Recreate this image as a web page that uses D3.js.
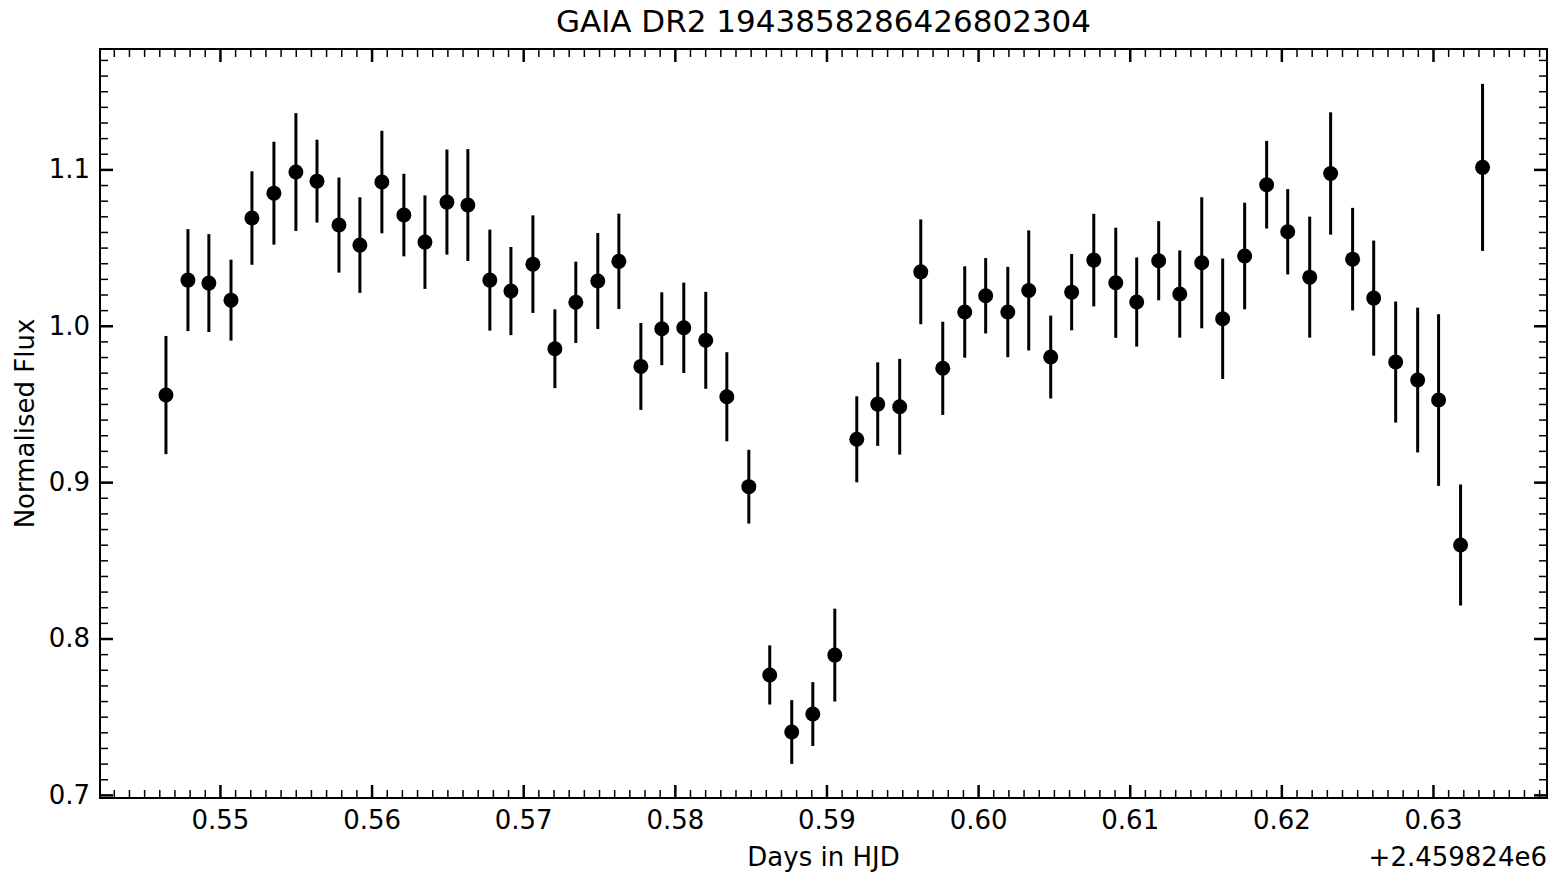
<!DOCTYPE html>
<html>
<head>
<meta charset="utf-8">
<script src="https://cdn.jsdelivr.net/npm/d3@7"></script>
<style>
  body { margin: 0; background: #fff; }
  text { font-family: "DejaVu Sans", sans-serif; fill: #000; }
</style>
</head>
<body>
<div id="plot"></div>
<script>
const WIDTH = 1552
const HEIGHT = 874

const MARGIN = {
    top: 49,
    bot: 76,
    left: 100,
    right: 5
}

// days in HJD, offset from 2459824
const hjd = [
    0.54644, 0.54789, 0.54927, 0.55073, 0.55211, 0.55356, 0.55501, 0.55640, 0.55785, 0.55923,
    0.56068, 0.56213, 0.56352, 0.56497, 0.56635, 0.56780, 0.56919, 0.57064, 0.57209, 0.57347,
    0.57492, 0.57631, 0.57776, 0.57914, 0.58059, 0.58204, 0.58343, 0.58488, 0.58626, 0.58771,
    0.58910, 0.59055, 0.59200, 0.59338, 0.59483, 0.59622, 0.59767, 0.59912, 0.60050, 0.60196,
    0.60334, 0.60479, 0.60617, 0.60763, 0.60908, 0.61046, 0.61191, 0.61330, 0.61475, 0.61613,
    0.61758, 0.61903, 0.62042, 0.62187, 0.62325, 0.62470, 0.62609, 0.62754, 0.62899, 0.63037,
    0.63182, 0.63327
]

const flux = [
    0.9557, 1.0292, 1.0273, 1.0164, 1.0689, 1.0848, 1.0983, 1.0925, 1.0644, 1.0516,
    1.0919, 1.0708, 1.0535, 1.0791, 1.0772, 1.0292, 1.0222, 1.0394, 0.9853, 1.0150,
    1.0286, 1.0412, 0.9740, 0.9981, 0.9987, 0.9907, 0.9546, 0.8971, 0.7767, 0.7402,
    0.7517, 0.7894, 0.9274, 0.9499, 0.9482, 1.0345, 0.9728, 1.0088, 1.0192, 1.0088,
    1.0226, 0.9800, 1.0215, 1.0420, 1.0275, 1.0152, 1.0416, 1.0203, 1.0403, 1.0045,
    1.0446, 1.0902, 1.0601, 1.0311, 1.0974, 1.0426, 1.0177, 0.9768, 0.9653, 0.9525,
    0.8598, 1.1013
]

const fluxErr = [
    0.0378, 0.0326, 0.0313, 0.0259, 0.0299, 0.0329, 0.0377, 0.0265, 0.0304, 0.0306,
    0.0328, 0.0264, 0.0299, 0.0336, 0.0358, 0.0323, 0.0282, 0.0312, 0.0252, 0.0260,
    0.0307, 0.0305, 0.0278, 0.0233, 0.0289, 0.0310, 0.0285, 0.0236, 0.0189, 0.0204,
    0.0204, 0.0297, 0.0275, 0.0267, 0.0306, 0.0335, 0.0298, 0.0292, 0.0241, 0.0289,
    0.0384, 0.0265, 0.0244, 0.0296, 0.0352, 0.0285, 0.0253, 0.0279, 0.0419, 0.0385,
    0.0341, 0.0280, 0.0273, 0.0387, 0.0391, 0.0328, 0.0368, 0.0387, 0.0463, 0.0549,
    0.0387, 0.0534
]

const xMajor = [0.55, 0.56, 0.57, 0.58, 0.59, 0.60, 0.61, 0.62, 0.63]
const yMajor = [0.7, 0.8, 0.9, 1.0, 1.1]

const SVG = d3.select("#plot")
    .append("svg")
    .attr("width", WIDTH)
    .attr("height", HEIGHT)

const xScale = d3.scaleLinear()
    .domain([0.54209, 0.63752])
    .range([MARGIN.left, WIDTH - MARGIN.right])

const yScale = d3.scaleLinear()
    .domain([0.698, 1.177])
    .range([HEIGHT - MARGIN.bot, MARGIN.top])

// minor ticks every 0.001 on x and 0.01 on y
const xMinor = d3.range(543, 638).map(d => d / 1000).filter(d => Math.round(d * 1000) % 10 !== 0)
const yMinor = d3.range(70, 118).map(d => d / 100).filter(d => Math.round(d * 100) % 10 !== 0)

const bottom = HEIGHT - MARGIN.bot
const right = WIDTH - MARGIN.right

function styleAxis(g, w) {
    g.select(".domain").remove()
    g.selectAll(".tick line").attr("stroke", "black").attr("stroke-width", w)
    g.selectAll("text").attr("font-size", 26)
}

// major ticks, all four sides, pointing in
SVG.append("g")
    .attr("transform", `translate(0, ${bottom})`)
    .call(d3.axisBottom(xScale).tickValues(xMajor).tickSize(-13).tickPadding(13).tickFormat(d3.format(".2f")))
    .call(g => styleAxis(g, 2.5))

SVG.append("g")
    .attr("transform", `translate(0, ${MARGIN.top})`)
    .call(d3.axisTop(xScale).tickValues(xMajor).tickSize(-13).tickFormat(""))
    .call(g => styleAxis(g, 2.5))

SVG.append("g")
    .attr("transform", `translate(${MARGIN.left}, 0)`)
    .call(d3.axisLeft(yScale).tickValues(yMajor).tickSize(-13).tickPadding(10).tickFormat(d3.format(".1f")))
    .call(g => styleAxis(g, 2.5))

SVG.append("g")
    .attr("transform", `translate(${right}, 0)`)
    .call(d3.axisRight(yScale).tickValues(yMajor).tickSize(-13).tickFormat(""))
    .call(g => styleAxis(g, 2.5))

// minor ticks
SVG.append("g")
    .attr("transform", `translate(0, ${bottom})`)
    .call(d3.axisBottom(xScale).tickValues(xMinor).tickSize(-8).tickFormat(""))
    .call(g => styleAxis(g, 1.5))

SVG.append("g")
    .attr("transform", `translate(0, ${MARGIN.top})`)
    .call(d3.axisTop(xScale).tickValues(xMinor).tickSize(-8).tickFormat(""))
    .call(g => styleAxis(g, 1.5))

SVG.append("g")
    .attr("transform", `translate(${MARGIN.left}, 0)`)
    .call(d3.axisLeft(yScale).tickValues(yMinor).tickSize(-8).tickFormat(""))
    .call(g => styleAxis(g, 1.5))

SVG.append("g")
    .attr("transform", `translate(${right}, 0)`)
    .call(d3.axisRight(yScale).tickValues(yMinor).tickSize(-8).tickFormat(""))
    .call(g => styleAxis(g, 1.5))

// frame
SVG.append("rect")
    .attr("x", MARGIN.left)
    .attr("y", MARGIN.top)
    .attr("width", right - MARGIN.left)
    .attr("height", bottom - MARGIN.top)
    .attr("fill", "none")
    .attr("stroke", "black")
    .attr("stroke-width", 2)

const points = hjd.map((d, i) => ({x: d, y: flux[i], e: fluxErr[i]}))

// error bars
SVG.append("g")
    .selectAll("line")
    .data(points)
    .join("line")
    .attr("x1", d => xScale(d.x))
    .attr("x2", d => xScale(d.x))
    .attr("y1", d => yScale(d.y - d.e))
    .attr("y2", d => yScale(d.y + d.e))
    .attr("stroke", "black")
    .attr("stroke-width", 3)

SVG.append("g")
    .selectAll("circle")
    .data(points)
    .join("circle")
    .attr("cx", d => xScale(d.x))
    .attr("cy", d => yScale(d.y))
    .attr("r", 7.5)
    .attr("fill", "black")

// labels
SVG.append("text")
    .attr("x", (MARGIN.left + right) / 2)
    .attr("y", 32)
    .attr("text-anchor", "middle")
    .attr("font-size", 31)
    .text("GAIA DR2 1943858286426802304")

SVG.append("text")
    .attr("x", (MARGIN.left + right) / 2)
    .attr("y", 866)
    .attr("text-anchor", "middle")
    .attr("font-size", 26)
    .text("Days in HJD")

SVG.append("text")
    .attr("x", right)
    .attr("y", 866)
    .attr("text-anchor", "end")
    .attr("font-size", 26)
    .text("+2.459824e6")

SVG.append("text")
    .attr("transform", `translate(34, ${(MARGIN.top + bottom) / 2}) rotate(-90)`)
    .attr("text-anchor", "middle")
    .attr("font-size", 26)
    .text("Normalised Flux")
</script>
</body>
</html>
